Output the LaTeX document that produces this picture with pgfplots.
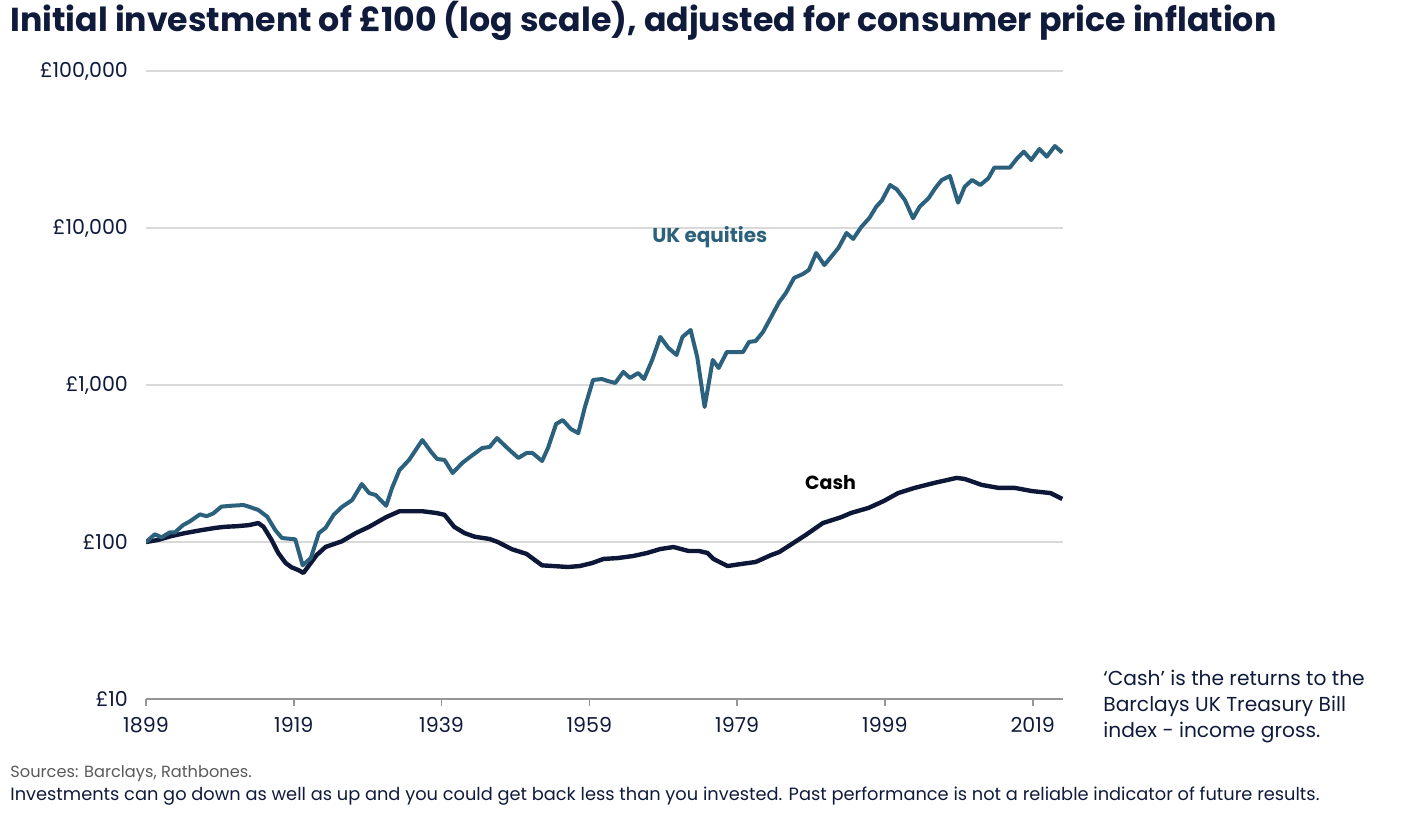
\documentclass[border=0pt]{standalone}
\usepackage{fontspec}
\setmainfont{Poppins}
\usepackage{pgfplots}
\pgfplotsset{compat=1.18}
\definecolor{eq}{RGB}{44,97,125}
\definecolor{cashc}{RGB}{13,24,56}
\definecolor{navy}{RGB}{16,27,60}
\definecolor{gridgray}{RGB}{217,217,217}
\definecolor{axisgray}{RGB}{150,150,150}
\definecolor{srcgray}{RGB}{90,90,90}
\begin{document}
\begin{tikzpicture}
\path[use as bounding box] (-73pt,-63.5pt) rectangle (630pt,349.5pt);
\begin{axis}[
 at={(0,0)}, anchor=south west,
 scale only axis, width=458.5pt, height=314pt,
 xmin=1899, xmax=2023.1,
 ymode=log, ymin=10, ymax=100000,
 ytick={10,100,1000,10000,100000},
 yticklabels={£10,£100,{£1,000},{£10,000},{£100,000}},
 yminorticks=false,
 xtick={1899,1919,1939,1959,1979,1999,2019},
 xticklabels={1899,1919,1939,1959,1979,1999,2019},
 ymajorgrids, grid style={draw=gridgray, line width=0.6pt},
 axis x line*=bottom, axis y line*=left,
 y axis line style={draw=none},
 x axis line style={draw=axisgray, line width=0.8pt},
 ytick style={draw=none},
 xtick style={draw=axisgray, line width=0.8pt},
 tick align=outside, major tick length=3.5pt,
 tick label style={font=\fontsize{10.3}{12}\selectfont, text=navy},
 yticklabel style={xshift=-2pt},
 xticklabel style={yshift=-2pt},
]
\addplot[cashc, line width=2.2pt, line join=round] coordinates {
(1899.0,100) (1900.6,103) (1902.4,109) (1904.3,114) (1906.5,119) (1908.4,123)
(1909.7,125) (1911.2,126) (1912.9,128) (1914.2,132) (1914.9,125) (1916.0,103)
(1916.9,85) (1917.9,73.5) (1918.7,69) (1919.7,66) (1920.3,63.5) (1922.1,82.6)
(1923.3,93) (1925.5,101) (1927.4,114) (1929.2,125) (1931.5,144) (1933.3,157)
(1936.4,157) (1938.3,153) (1939.4,149) (1940.7,125) (1942.1,114) (1943.5,108)
(1945.5,104.5) (1946.6,100) (1948.5,90) (1950.5,84) (1952.6,71) (1954.1,70.3)
(1956.1,69.3) (1957.7,70.3) (1959.4,73.5) (1960.9,78) (1962.8,79) (1964.9,81.4)
(1966.8,85.1) (1968.6,90.2) (1970.4,92.9) (1972.4,87.7) (1973.8,87.7) (1975.0,85.1)
(1975.8,78) (1977.7,70.3) (1979.5,72.4) (1981.5,74.6) (1983.6,82.6) (1984.7,86.3)
(1986.6,98.5) (1988.3,111) (1990.6,132) (1993.1,144) (1994.4,153) (1996.8,165)
(1998.8,182) (2000.8,205) (2003.0,221) (2005.7,238) (2008.7,256) (2009.8,252)
(2012.1,231) (2014.4,221) (2016.6,221) (2018.9,211) (2021.4,205) (2023.0,188)
};
\addplot[eq, line width=2pt, line join=round] coordinates {
(1899.0,100) (1900.2,112) (1901.1,107) (1902.2,115) (1902.9,115) (1904.0,128)
(1904.9,135) (1906.3,150) (1907.2,146) (1908.1,152) (1909.2,168) (1910.4,170)
(1912.2,172) (1912.9,168) (1914.2,160) (1915.4,145) (1916.5,119) (1917.4,106)
(1919.2,104) (1920.2,71) (1921.3,79) (1922.4,114) (1923.3,123) (1924.4,149)
(1925.5,167) (1926.9,185) (1928.2,234) (1929.2,205) (1930.1,199) (1931.5,170)
(1932.3,221) (1933.3,287) (1934.6,333) (1936.4,446) (1937.6,374) (1938.4,338)
(1939.4,333) (1940.5,275) (1941.8,319) (1943.2,358) (1944.5,397) (1945.5,403)
(1946.5,459) (1947.9,397) (1949.4,343) (1950.5,369) (1951.3,369) (1952.6,328)
(1953.4,397) (1954.5,565) (1955.4,598) (1956.5,524) (1957.5,494) (1958.4,724)
(1959.5,1076) (1960.7,1092) (1961.5,1060) (1962.5,1030) (1963.6,1211) (1964.5,1109)
(1965.6,1192) (1966.4,1092) (1967.5,1443) (1968.6,2023) (1969.7,1722) (1970.8,1553)
(1971.6,2023) (1972.7,2240) (1973.6,1507) (1974.6,724) (1975.7,1443) (1976.5,1283)
(1977.6,1622) (1979.8,1622) (1980.6,1879) (1981.5,1906) (1982.5,2176) (1983.6,2712)
(1984.7,3381) (1985.6,3855) (1986.7,4805) (1987.9,5094) (1988.7,5398) (1989.7,6927)
(1990.8,5808) (1991.7,6531) (1992.7,7456) (1993.8,9293) (1994.7,8513) (1995.8,10150)
(1996.9,11580) (1997.8,13610) (1998.6,15000) (1999.7,18780) (2000.6,17620) (2001.7,15070)
(2002.8,11530) (2003.7,13670) (2004.9,15460) (2005.8,17910) (2006.7,20230) (2007.8,21430)
(2008.9,14490) (2009.8,18330) (2010.8,20230) (2011.9,18780) (2013.0,20730) (2013.8,24230)
(2015.9,24230) (2016.9,27800) (2017.8,30620) (2018.8,27100) (2019.9,31850) (2020.9,28460)
(2022.0,33280) (2023.0,30200)
};
\node[text=eq, font=\fontsize{10}{12}\selectfont\bfseries] at (axis cs:1975.3,8770) {UK equities};
\node[text=black, font=\fontsize{9.5}{11}\selectfont\bfseries] at (axis cs:1991.65,237.7) {Cash};
\end{axis}
\node[anchor=base west, text=navy, font=\fontsize{16.6}{19}\selectfont\bfseries, inner sep=0pt] at (-68pt,333.5pt) {Initial investment of £100 (log scale), adjusted for consumer price inflation};
\node[anchor=base west, text=navy, font=\fontsize{10.1}{12}\selectfont, inner sep=0pt] at (478.5pt,7pt) {‘Cash’ is the returns to the};
\node[anchor=base west, text=navy, font=\fontsize{10.1}{12}\selectfont, inner sep=0pt] at (478.5pt,-6pt) {Barclays UK Treasury Bill};
\node[anchor=base west, text=navy, font=\fontsize{10.1}{12}\selectfont, inner sep=0pt] at (478.5pt,-19pt) {index - income gross.};
\node[anchor=base west, text=srcgray, font=\fontsize{8.1}{10}\selectfont, inner sep=0pt] at (-68pt,-39pt) {Sources: Barclays, Rathbones.};
\node[anchor=base west, text=navy, font=\fontsize{8.9}{11}\selectfont, inner sep=0pt] at (-68pt,-50.5pt) {Investments can go down as well as up and you could get back less than you invested. Past performance is not a reliable indicator of future results.};
\end{tikzpicture}
\end{document}
